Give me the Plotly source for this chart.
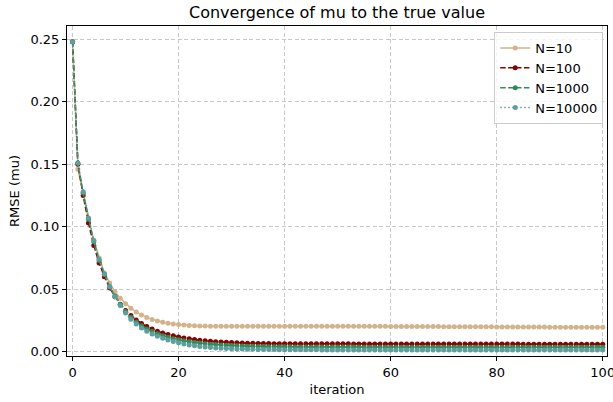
import plotly.graph_objects as go

iterations = list(range(101))

rmse_n10 = [
    0.248, 0.146, 0.127, 0.106, 0.089, 0.075, 0.063, 0.055, 0.048, 0.0428,
    0.0384, 0.0348, 0.0318, 0.0294, 0.0274, 0.0258, 0.0246, 0.0236, 0.0228, 0.0222,
    0.0217, 0.0213, 0.0210, 0.0208, 0.0206, 0.0205, 0.0204, 0.0203, 0.0203, 0.0203,
    0.0203, 0.0203, 0.0203, 0.0203, 0.0203, 0.0204, 0.0204, 0.0204, 0.0204, 0.0204,
    0.0204, 0.0204, 0.0204, 0.0204, 0.0204, 0.0204, 0.0204, 0.0204, 0.0204, 0.0204,
    0.0204, 0.0204, 0.0204, 0.0203, 0.0203, 0.0203, 0.0203, 0.0203, 0.0203, 0.0203,
    0.0202, 0.0202, 0.0202, 0.0202, 0.0202, 0.0201, 0.0201, 0.0201, 0.0201, 0.0201,
    0.0200, 0.0200, 0.0200, 0.0200, 0.0200, 0.0199, 0.0199, 0.0199, 0.0199, 0.0199,
    0.0198, 0.0198, 0.0198, 0.0198, 0.0198, 0.0197, 0.0197, 0.0197, 0.0197, 0.0197,
    0.0196, 0.0196, 0.0196, 0.0196, 0.0196, 0.0195, 0.0195, 0.0195, 0.0195, 0.0195,
    0.0195,
]

rmse_n100 = [
    0.248, 0.150, 0.125, 0.103, 0.085, 0.071, 0.060, 0.051, 0.0440, 0.0380,
    0.0330, 0.0289, 0.0254, 0.0225, 0.0201, 0.0181, 0.0164, 0.0150, 0.0138, 0.0127,
    0.0118, 0.0110, 0.0103, 0.0097, 0.0092, 0.0087, 0.0083, 0.0080, 0.0077, 0.0075,
    0.0073, 0.0071, 0.0069, 0.0068, 0.0067, 0.0066, 0.0065, 0.0065, 0.0064, 0.0064,
    0.0064, 0.0063, 0.0063, 0.0063, 0.0063, 0.0063, 0.0063, 0.0063, 0.0063, 0.0063,
    0.0063, 0.0063, 0.0063, 0.0062, 0.0062, 0.0062, 0.0062, 0.0062, 0.0062, 0.0062,
    0.0062, 0.0062, 0.0062, 0.0062, 0.0062, 0.0062, 0.0062, 0.0062, 0.0062, 0.0062,
    0.0061, 0.0061, 0.0061, 0.0061, 0.0061, 0.0061, 0.0061, 0.0061, 0.0061, 0.0061,
    0.0061, 0.0061, 0.0061, 0.0061, 0.0061, 0.0060, 0.0060, 0.0060, 0.0060, 0.0060,
    0.0060, 0.0060, 0.0060, 0.0060, 0.0060, 0.0060, 0.0060, 0.0060, 0.0060, 0.0060,
    0.0060,
]

rmse_n1000 = [
    0.248, 0.151, 0.127, 0.106, 0.088, 0.073, 0.062, 0.052, 0.0445, 0.0378,
    0.0322, 0.0276, 0.0238, 0.0207, 0.0182, 0.0161, 0.0143, 0.0128, 0.0115, 0.0104,
    0.0095, 0.0087, 0.0080, 0.0074, 0.0069, 0.0064, 0.0060, 0.0057, 0.0054, 0.0051,
    0.0049, 0.0047, 0.0045, 0.0044, 0.0043, 0.0042, 0.0041, 0.0040, 0.0040, 0.0039,
    0.0039, 0.0039, 0.0038, 0.0038, 0.0038, 0.0038, 0.0037, 0.0037, 0.0037, 0.0037,
    0.0037, 0.0037, 0.0037, 0.0037, 0.0037, 0.0036, 0.0036, 0.0036, 0.0036, 0.0036,
    0.0036, 0.0036, 0.0036, 0.0036, 0.0036, 0.0036, 0.0036, 0.0036, 0.0036, 0.0036,
    0.0036, 0.0036, 0.0036, 0.0036, 0.0036, 0.0036, 0.0036, 0.0036, 0.0036, 0.0036,
    0.0035, 0.0035, 0.0035, 0.0035, 0.0035, 0.0035, 0.0035, 0.0035, 0.0035, 0.0035,
    0.0035, 0.0035, 0.0035, 0.0035, 0.0035, 0.0035, 0.0035, 0.0035, 0.0035, 0.0035,
    0.0035,
]

rmse_n10000 = [
    0.248, 0.151, 0.128, 0.107, 0.089, 0.074, 0.062, 0.052, 0.044, 0.037,
    0.031, 0.026, 0.0222, 0.0190, 0.0164, 0.0142, 0.0123, 0.0107, 0.0093, 0.0081,
    0.0071, 0.0062, 0.0054, 0.0048, 0.0042, 0.0037, 0.0033, 0.0030, 0.0027, 0.0025,
    0.0023, 0.0022, 0.0021, 0.0020, 0.0019, 0.0018, 0.0018, 0.0017, 0.0017, 0.0016,
    0.0016, 0.0016, 0.0015, 0.0015, 0.0015, 0.0015, 0.0015, 0.0014, 0.0014, 0.0014,
    0.0014, 0.0014, 0.0014, 0.0014, 0.0014, 0.0014, 0.0014, 0.0014, 0.0014, 0.0014,
    0.0014, 0.0014, 0.0014, 0.0014, 0.0014, 0.0013, 0.0013, 0.0013, 0.0013, 0.0013,
    0.0013, 0.0013, 0.0013, 0.0013, 0.0013, 0.0013, 0.0013, 0.0013, 0.0013, 0.0013,
    0.0013, 0.0013, 0.0013, 0.0013, 0.0013, 0.0013, 0.0013, 0.0013, 0.0013, 0.0013,
    0.0013, 0.0013, 0.0013, 0.0013, 0.0013, 0.0013, 0.0013, 0.0013, 0.0013, 0.0013,
    0.0013,
]

series_names = ["N=10", "N=100", "N=1000", "N=10000"]
series_values = [rmse_n10, rmse_n100, rmse_n1000, rmse_n10000]
series_colors = ["#D2B48C", "#8B0000", "#2E8B57", "#5F9EA0"]
series_dashes = ["solid", "5.5px,2.4px", "5.5px,2.4px", "1.5px,2.5px"]

x_ticks = [0, 20, 40, 60, 80, 100]
y_ticks = [0.00, 0.05, 0.10, 0.15, 0.20, 0.25]

fig = go.Figure()
for name, vals, col, dash in zip(series_names, series_values, series_colors, series_dashes):
    fig.add_trace(go.Scatter(
        x=iterations, y=vals, name=name, mode="lines+markers",
        line=dict(color=col, width=1.5, dash=dash),
        marker=dict(color=col, size=5, line=dict(width=0)),
    ))

font_family = "DejaVu Sans, sans-serif"
axis_common = dict(
    showline=True, linecolor="black", linewidth=1, mirror=True,
    ticks="outside", ticklen=4, tickcolor="black", tickwidth=1,
    showgrid=True, gridcolor="#c8c8c8", griddash="4px,2.5px", gridwidth=1,
    zeroline=False, tickfont=dict(size=13, color="black"), automargin=False,
)

# figure is a little wider than the window so that the "100" tick label is kept
# and clipped by the window edge, as in the reference
fig.update_layout(
    width=625, height=402,
    margin=dict(l=67, r=18, t=26, b=46),
    paper_bgcolor="white", plot_bgcolor="white",
    font=dict(family=font_family, color="black", size=13),
    title=dict(text="Convergence of mu to the true value", xref="paper", x=0.5, xanchor="center",
               yref="container", y=0.97, yanchor="middle", font=dict(size=16, color="black")),
    xaxis=dict(range=[-1.05, 100.8], tickvals=x_ticks,
               title=dict(text="iteration", font=dict(size=13), standoff=6), **axis_common),
    yaxis=dict(range=[-0.0035, 0.2605], tickvals=y_ticks, tickformat=".2f",
               title=dict(text="RMSE (mu)", font=dict(size=13), standoff=7), **axis_common),
    legend=dict(x=0.993, y=0.982, xanchor="right", yanchor="top",
                bgcolor="rgba(255,255,255,0.8)", bordercolor="#cccccc", borderwidth=1,
                font=dict(size=13), tracegroupgap=0, itemwidth=30),
    showlegend=True,
)

fig.write_html(
    "out.html",
    config={"displayModeBar": False},
    post_script="document.body.style.margin='0px';document.body.style.overflow='hidden';",
)
